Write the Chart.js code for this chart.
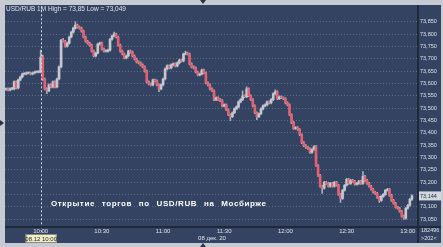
<!DOCTYPE html>
<html>
<head>
<meta charset="utf-8">
<script src="https://cdn.jsdelivr.net/npm/chart.js@4.4.1/dist/chart.umd.min.js"></script>
<style>
  html, body { margin: 0; padding: 0; background: #c6cbd3; overflow: hidden; }
  #wrap { width: 443px; height: 247px; }
</style>
</head>
<body>
<div id="wrap"><canvas id="chart"></canvas></div>
<script>
// USD/RUB 1M candles, 08.12.20, 09:43 .. 13:02
const firstMinute = 9 * 60 + 43;
const slotCount = 202;
const timeTicks = ['10:00', '10:30', '11:00', '11:30', '12:00', '12:30', '13:00'];

const opens = [
  73.576,73.578,73.574,73.578,73.578,73.606,73.582,73.614,73.626,73.638,
  73.638,73.642,73.642,73.638,73.642,73.646,73.646,73.646,73.707,73.618,
  73.578,73.570,73.594,73.586,73.606,73.586,73.618,73.667,73.775,73.771,
  73.751,73.763,73.788,73.808,73.824,73.836,73.828,73.824,73.812,73.788,
  73.771,73.763,73.755,73.731,73.711,73.723,73.759,73.763,73.739,73.731,
  73.731,73.735,73.779,73.792,73.800,73.788,73.755,73.731,73.719,73.703,
  73.711,73.731,73.727,73.711,73.699,73.687,73.683,73.675,73.667,73.650,
  73.606,73.598,73.594,73.614,73.610,73.594,73.578,73.594,73.618,73.659,
  73.671,73.663,73.675,73.679,73.671,73.683,73.695,73.691,73.719,73.723,
  73.719,73.679,73.667,73.663,73.646,73.634,73.638,73.654,73.642,73.602,
  73.594,73.578,73.570,73.534,73.542,73.534,73.530,73.509,73.513,73.493,
  73.473,73.465,73.481,73.497,73.505,73.525,73.534,73.550,73.546,73.578,
  73.550,73.534,73.509,73.481,73.465,73.477,73.497,73.509,73.513,73.525,
  73.521,73.534,73.558,73.566,73.538,73.546,73.542,73.538,73.521,73.513,
  73.473,73.441,73.417,73.421,73.413,73.392,73.360,73.348,73.340,73.336,
  73.320,73.332,73.344,73.267,73.227,73.183,73.175,73.199,73.195,73.183,
  73.195,73.183,73.199,73.187,73.150,73.134,73.167,73.187,73.211,73.195,
  73.207,73.203,73.191,73.195,73.203,73.195,73.223,73.207,73.195,73.183,
  73.171,73.159,73.154,73.138,73.126,73.142,73.150,73.167,73.171,73.146,
  73.126,73.114,73.098,73.094,73.082,73.062,73.054,73.094,73.106,73.130
];
const highs = [
  73.582,73.582,73.582,73.583,73.610,73.610,73.618,73.630,73.642,73.643,
  73.646,73.646,73.646,73.646,73.650,73.650,73.651,73.735,73.715,73.622,
  73.582,73.598,73.598,73.610,73.610,73.622,73.671,73.779,73.783,73.775,
  73.767,73.792,73.812,73.828,73.850,73.840,73.832,73.828,73.816,73.792,
  73.775,73.767,73.759,73.735,73.727,73.763,73.767,73.767,73.743,73.735,
  73.739,73.783,73.796,73.808,73.804,73.792,73.759,73.735,73.723,73.715,
  73.735,73.735,73.731,73.715,73.703,73.691,73.687,73.679,73.671,73.654,
  73.610,73.602,73.618,73.618,73.614,73.598,73.598,73.622,73.663,73.675,
  73.675,73.679,73.683,73.683,73.687,73.699,73.699,73.723,73.731,73.727,
  73.723,73.683,73.671,73.667,73.650,73.642,73.658,73.658,73.646,73.606,
  73.598,73.582,73.574,73.546,73.546,73.538,73.534,73.517,73.517,73.497,
  73.477,73.485,73.501,73.509,73.529,73.538,73.570,73.554,73.586,73.582,
  73.554,73.538,73.513,73.485,73.481,73.501,73.513,73.517,73.529,73.529,
  73.538,73.562,73.574,73.570,73.550,73.550,73.546,73.542,73.525,73.517,
  73.477,73.445,73.425,73.425,73.417,73.396,73.364,73.352,73.344,73.340,
  73.336,73.348,73.348,73.271,73.231,73.187,73.203,73.203,73.199,73.199,
  73.199,73.203,73.203,73.191,73.154,73.171,73.191,73.215,73.215,73.211,
  73.211,73.207,73.199,73.207,73.207,73.243,73.227,73.211,73.199,73.187,
  73.175,73.163,73.158,73.142,73.146,73.154,73.171,73.175,73.175,73.150,
  73.130,73.118,73.102,73.098,73.086,73.066,73.098,73.110,73.134,73.148
];
const lows = [
  73.572,73.570,73.570,73.574,73.574,73.578,73.578,73.610,73.622,73.634,
  73.634,73.638,73.634,73.634,73.638,73.642,73.642,73.642,73.612,73.574,
  73.558,73.566,73.582,73.582,73.582,73.582,73.614,73.663,73.767,73.747,
  73.747,73.759,73.784,73.804,73.820,73.824,73.820,73.808,73.784,73.767,
  73.759,73.751,73.727,73.707,73.707,73.719,73.755,73.735,73.727,73.727,
  73.727,73.731,73.775,73.788,73.784,73.751,73.727,73.715,73.699,73.699,
  73.707,73.723,73.707,73.695,73.683,73.679,73.671,73.663,73.646,73.602,
  73.594,73.590,73.590,73.606,73.590,73.566,73.574,73.590,73.614,73.655,
  73.659,73.659,73.671,73.667,73.667,73.679,73.687,73.687,73.715,73.715,
  73.675,73.663,73.659,73.642,73.630,73.630,73.634,73.638,73.598,73.590,
  73.574,73.566,73.530,73.530,73.530,73.526,73.505,73.505,73.489,73.469,
  73.449,73.461,73.477,73.493,73.501,73.521,73.530,73.542,73.542,73.546,
  73.530,73.505,73.477,73.453,73.461,73.473,73.493,73.505,73.509,73.517,
  73.517,73.530,73.554,73.534,73.534,73.538,73.534,73.517,73.509,73.469,
  73.437,73.413,73.413,73.409,73.388,73.356,73.344,73.336,73.332,73.316,
  73.316,73.328,73.263,73.223,73.179,73.154,73.171,73.191,73.179,73.179,
  73.179,73.179,73.183,73.146,73.118,73.130,73.163,73.183,73.191,73.191,
  73.199,73.187,73.187,73.191,73.191,73.191,73.203,73.191,73.179,73.167,
  73.155,73.150,73.134,73.118,73.122,73.138,73.146,73.163,73.142,73.122,
  73.110,73.094,73.090,73.078,73.058,73.049,73.050,73.090,73.102,73.126
];
const closes = [
  73.578,73.574,73.578,73.578,73.606,73.582,73.614,73.626,73.638,73.638,
  73.642,73.642,73.638,73.642,73.646,73.646,73.646,73.707,73.618,73.578,
  73.570,73.594,73.586,73.606,73.586,73.618,73.667,73.775,73.771,73.751,
  73.763,73.788,73.808,73.824,73.836,73.828,73.824,73.812,73.788,73.771,
  73.763,73.755,73.731,73.711,73.723,73.759,73.763,73.739,73.731,73.731,
  73.735,73.779,73.792,73.800,73.788,73.755,73.731,73.719,73.703,73.711,
  73.731,73.727,73.711,73.699,73.687,73.683,73.675,73.667,73.650,73.606,
  73.598,73.594,73.614,73.610,73.594,73.578,73.594,73.618,73.659,73.671,
  73.663,73.675,73.679,73.671,73.683,73.695,73.691,73.719,73.723,73.719,
  73.679,73.667,73.663,73.646,73.634,73.638,73.654,73.642,73.602,73.594,
  73.578,73.570,73.534,73.542,73.534,73.530,73.509,73.513,73.493,73.473,
  73.465,73.481,73.497,73.505,73.525,73.534,73.550,73.546,73.578,73.550,
  73.534,73.509,73.481,73.465,73.477,73.497,73.509,73.513,73.525,73.521,
  73.534,73.558,73.566,73.538,73.546,73.542,73.538,73.521,73.513,73.473,
  73.441,73.417,73.421,73.413,73.392,73.360,73.348,73.340,73.336,73.320,
  73.332,73.344,73.267,73.227,73.183,73.175,73.199,73.195,73.183,73.195,
  73.183,73.199,73.187,73.150,73.134,73.167,73.187,73.211,73.195,73.207,
  73.203,73.191,73.195,73.203,73.195,73.223,73.207,73.195,73.183,73.171,
  73.159,73.154,73.138,73.126,73.142,73.150,73.167,73.171,73.146,73.126,
  73.114,73.098,73.094,73.082,73.062,73.054,73.094,73.106,73.130,73.144
];

// minute labels of the 1M bars
const categories = [];
for (let i = 0; i < slotCount; i++) {
    const m = firstMinute + i;
    categories.push(String(Math.floor(m / 60)).padStart(2, '0') + ':' + String(m % 60).padStart(2, '0'));
}

const navy = '#344361';
const upColor = '#c3c8d1';
const downColor = '#e4606f';
const wickColor = '#a8aebb';
const textColor = '#dde1e8';

const bodies = opens.map((o, i) => [o, closes[i]]);
const wicks = lows.map((l, i) => [l, highs[i]]);
const bodyColors = opens.map((o, i) => closes[i] >= o ? upColor : downColor);

const fmt = v => v.toFixed(3).replace('.', ',');

const frame = {
    id: 'frame',
    beforeDraw(chart) {
        const { ctx, width, height } = chart;
        ctx.save();
        ctx.fillStyle = '#c6cbd3';
        ctx.fillRect(0, 0, width, height);
        ctx.fillStyle = navy;
        ctx.fillRect(5, 5, width - 7, height - 9);
        ctx.restore();
    },
    afterDatasetsDraw(chart) {
        const { ctx, chartArea, scales } = chart;
        const x = Math.round(scales.x.getPixelForValue(categories.indexOf('10:00'))) + 0.5;
        ctx.save();
        ctx.strokeStyle = '#d4d8df';
        ctx.lineWidth = 1;
        ctx.setLineDash([2, 2]);
        ctx.beginPath();
        ctx.moveTo(x, chartArea.top);
        ctx.lineTo(x, 234);
        ctx.stroke();
        ctx.restore();
    },
    afterDraw(chart) {
        const { ctx, chartArea, scales, width } = chart;
        ctx.save();

        // axis separators
        ctx.fillStyle = '#1f2939';
        ctx.fillRect(chartArea.right, 5, 2, 238);
        ctx.fillRect(5, chartArea.bottom, width - 7, 2);

        // header
        ctx.fillStyle = textColor;
        ctx.font = '6.5px "Liberation Sans", Arial, sans-serif';
        ctx.textBaseline = 'middle';
        ctx.textAlign = 'left';
        ctx.fillText('USD/RUB 1M High = 73,85 Low = 73,049', 6, 9);

        // caption
        ctx.fillStyle = '#ffffff';
        ctx.font = 'bold 8px "Liberation Sans", Arial, sans-serif';
        ctx.letterSpacing = '0.6px';
        ctx.wordSpacing = '4px';
        ctx.fillText('Открытие торгов по USD/RUB на Мосбирже', 51, 204);
        ctx.letterSpacing = '0px';
        ctx.wordSpacing = '0px';

        // time cursor box
        const cx = scales.x.getPixelForValue(categories.indexOf('10:00'));
        ctx.font = '6px "Liberation Sans", Arial, sans-serif';
        ctx.fillStyle = '#efedcb';
        ctx.fillRect(cx - 15, 234, 31, 9);
        ctx.strokeStyle = '#8d8c72';
        ctx.lineWidth = 1;
        ctx.strokeRect(cx - 14.5, 234.5, 30, 8);
        ctx.fillStyle = '#2a2a2a';
        ctx.textAlign = 'center';
        ctx.fillText('08.12 10:00', cx + 0.5, 239);

        // date under the time axis
        ctx.fillStyle = textColor;
        ctx.fillText('08 дек. 20', 212, 238);

        // right bottom corner
        ctx.textAlign = 'left';
        ctx.font = '5.5px "Liberation Sans", Arial, sans-serif';
        ctx.fillText('182496', 421, 230);
        ctx.fillText('>202<', 421, 238.5);

        // last price box
        const last = closes[closes.length - 1];
        const py = scales.y.getPixelForValue(last);
        ctx.fillStyle = '#d3d7de';
        ctx.fillRect(chartArea.right + 2, py - 4.5, 22, 9);
        ctx.fillStyle = '#232b38';
        ctx.fillText(fmt(last), chartArea.right + 3, py + 0.5);

        // little scroll markers on the frame
        ctx.fillStyle = '#2b3447';
        ctx.beginPath();
        ctx.moveTo(200, 0); ctx.lineTo(206, 0); ctx.lineTo(203, 4); ctx.closePath(); ctx.fill();
        ctx.beginPath();
        ctx.moveTo(200, 247); ctx.lineTo(206, 247); ctx.lineTo(203, 243); ctx.closePath(); ctx.fill();
        ctx.beginPath();
        ctx.moveTo(0, 120); ctx.lineTo(0, 126); ctx.lineTo(4, 123); ctx.closePath(); ctx.fill();

        ctx.restore();
    }
};

new Chart(document.getElementById('chart'), {
    type: 'bar',
    data: {
        labels: categories,
        datasets: [
            {
                label: 'wick',
                data: wicks,
                backgroundColor: wickColor,
                barThickness: 1,
                grouped: false,
                order: 2
            },
            {
                label: 'USD/RUB',
                data: bodies,
                backgroundColor: bodyColors,
                barThickness: 2,
                minBarLength: 1,
                grouped: false,
                order: 1
            }
        ]
    },
    options: {
        responsive: true,
        maintainAspectRatio: false,
        animation: false,
        layout: { padding: { left: 5, top: 5, right: 2, bottom: 4 } },
        plugins: { legend: { display: false }, tooltip: { enabled: false } },
        scales: {
            x: {
                afterFit: s => { s.height = 17; },
                ticks: {
                    autoSkip: false,
                    maxRotation: 0,
                    padding: 2,
                    color: textColor,
                    font: { size: 6, family: '"Liberation Sans", Arial, sans-serif' },
                    callback: (v, i) => timeTicks.includes(categories[i]) ? categories[i] : null
                },
                grid: {
                    offset: false,
                    drawTicks: false,
                    color: c => timeTicks.includes(categories[c.index]) ? 'rgba(170,182,205,0.35)' : 'transparent'
                },
                border: { display: false, dash: [1, 2] }
            },
            y: {
                position: 'right',
                min: 73.022,
                max: 73.9125,
                afterFit: s => { s.width = 24; },
                ticks: {
                    stepSize: 0.05,
                    includeBounds: false,
                    padding: 3,
                    color: textColor,
                    font: { size: 5.5, family: '"Liberation Sans", Arial, sans-serif' },
                    callback: v => v > 73.86 ? null : fmt(v)
                },
                grid: { drawTicks: false, color: 'rgba(170,182,205,0.35)' },
                border: { display: false, dash: [1, 2] }
            }
        }
    },
    plugins: [frame]
});
</script>
</body>
</html>
